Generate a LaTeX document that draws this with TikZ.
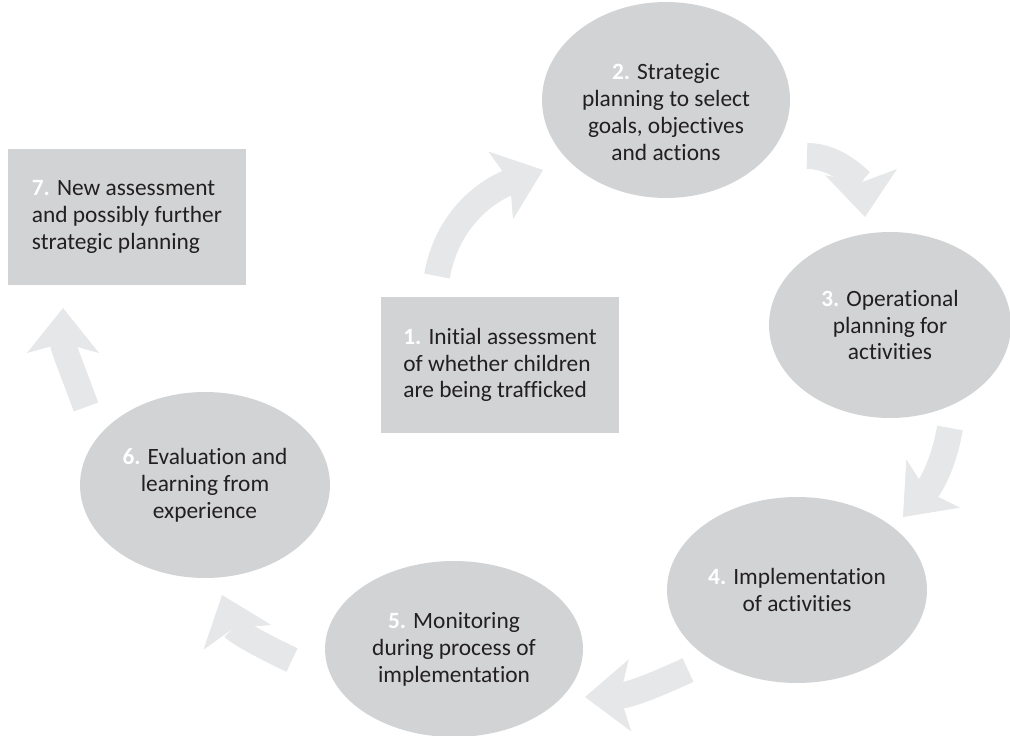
\documentclass[tikz,border=0pt]{standalone}
\usepackage{fontspec}
\setmainfont{Carlito}[Ligatures=NoCommon]
\usepackage{xcolor}
\usetikzlibrary{arrows.meta,shapes.geometric,positioning}
\definecolor{stagegrey}{HTML}{D1D3D4}
\definecolor{arrowgrey}{HTML}{E6E7E8}
\definecolor{textgrey}{HTML}{231F20}
\newcommand{\stepno}[1]{\textcolor{white}{\textbf{#1.}}}
\tikzset{
  stage/.style={ellipse,fill=stagegrey,inner sep=0pt,align=center,text=textgrey,font=\fontsize{13.3}{15.3}\selectfont},
  stagetext/.style={inner sep=0pt,align=center,text=textgrey,font=\fontsize{13.3}{15.3}\selectfont},
  stagebox/.style={rectangle,fill=stagegrey,inner sep=0pt,align=left,text=textgrey,font=\fontsize{13.3}{15.3}\selectfont,minimum width=4.78cm,minimum height=2.74cm},
  cyclearrow/.style={draw=arrowgrey,line width=0.52cm,-{Stealth[length=0.9cm,width=1.44cm,inset=0.2cm,line width=0.4pt]}}
}

\begin{document}
\begin{tikzpicture}[x=0.02cm,y=0.02cm]
\useasboundingbox (0,0) rectangle (1010,735);
%%%%%%%%%%%%%%%%
\node[stagebox] (b1) at (500,370) {\stepno{1} Initial assessment\\of whether children\\are being trafficked};
%%%%%%%%%%%%%%%%
\node[stage,minimum width=4.96cm,minimum height=3.92cm] (e2) at (666,635) {};
\node[stagetext] (t2) at (666,623) {\stepno{2} Strategic\\planning to select\\goals, objectives\\and actions};
%%%%%%%%%%%%%%%%
\node[stage,minimum width=4.84cm,minimum height=3.72cm] (e3) at (890,410) {\stepno{3} Operational\\planning for\\activities};
%%%%%%%%%%%%%%%%
\node[stage,minimum width=5.2cm,minimum height=3.72cm] (e4) at (797,145) {\stepno{4} Implementation\\of activities};
%%%%%%%%%%%%%%%%
\node[stage,minimum width=5.16cm,minimum height=3.52cm] (e5) at (454,86) {\stepno{5} Monitoring\\during process of\\implementation};
%%%%%%%%%%%%%%%%
\node[stage,minimum width=5cm,minimum height=3.72cm] (e6) at (205,250) {\stepno{6} Evaluation and\\learning from\\experience};
%%%%%%%%%%%%%%%%
\node[stagebox] (b7) at (127,518) {\stepno{7} New assessment\\and possibly further\\strategic planning};
%%%%%%%%%%%%%%%%
%%%%%%%%%%%%%%%%
\coordinate (s12) at (437,459);  \coordinate (h12) at (543,565);
\coordinate (s23) at (807,579);  \coordinate (h23) at (865,518);
\coordinate (s34) at (950,307);  \coordinate (h34) at (903,218);
\coordinate (s45) at (688,65);   \coordinate (h45) at (585,38);
\coordinate (s56) at (292,75);   \coordinate (h56) at (222,140);
\coordinate (s67) at (86,328);   \coordinate (h67) at (63,427);
\draw[cyclearrow] (s12) to[out=80,in=200] (h12);
\draw[cyclearrow] (s23) to[out=0,in=95] (h23);
\draw[cyclearrow] (s34) to[out=260,in=48] (h34);
\draw[cyclearrow] (s45) to[out=205,in=2] (h45);
\draw[cyclearrow] (s56) to[out=155,in=290] (h56);
\draw[cyclearrow] (s67) to[out=110,in=270] (h67);
\end{tikzpicture}
\end{document}
